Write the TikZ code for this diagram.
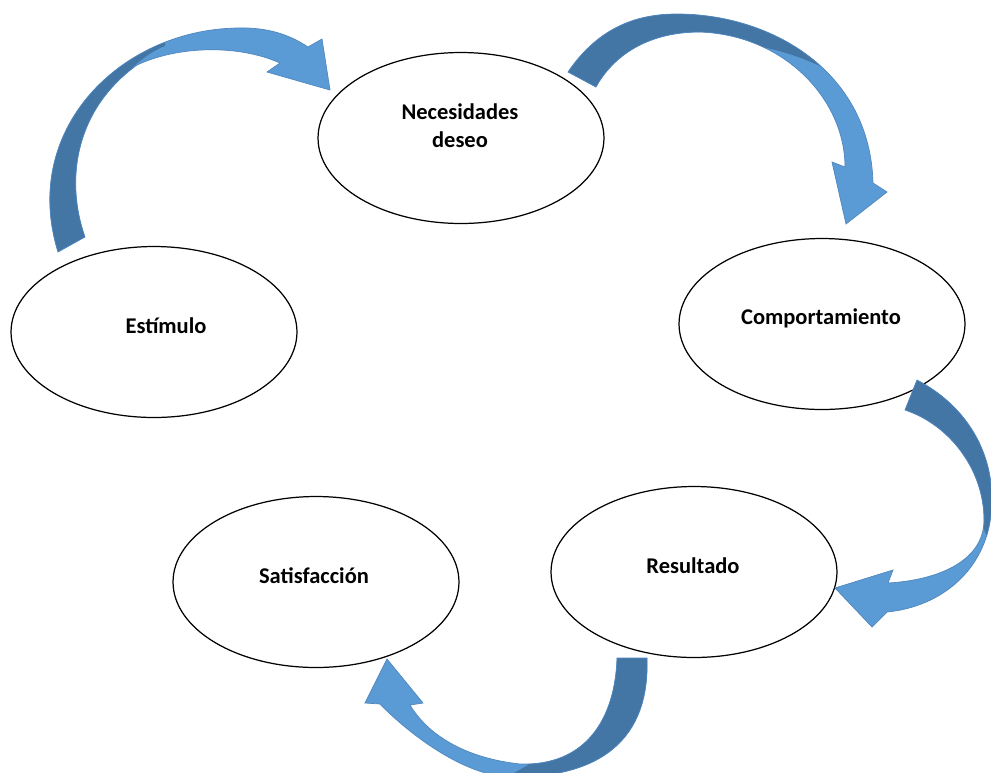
\documentclass[tikz,border=0pt]{standalone}
\usepackage{fontspec}
\setmainfont{Carlito}
\usetikzlibrary{shapes.geometric}
\definecolor{arrlight}{RGB}{91,155,213}
\definecolor{arrdark}{RGB}{68,118,165}
\definecolor{arredge}{RGB}{80,135,190}
\begin{document}
\begin{tikzpicture}[x=0.02cm,y=-0.02cm,
  oval/.style={ellipse, draw=black, line width=0.7pt, fill=white, inner sep=0pt, outer sep=0pt,
    minimum width=5.72cm, minimum height=3.42cm},
  lbl/.style={font=\fontsize{12.8}{15.9}\selectfont\bfseries, align=center, inner sep=0pt},
  arrfill/.style={fill=arrlight},
  arrshade/.style={fill=arrdark},
  arrline/.style={draw=arredge, line width=0.4pt}]
\useasboundingbox (0,0) rectangle (991,772);
\fill[white] (0,0) rectangle (991,772);
% ellipses
\node[oval] (nec) at (461,138) {};
\node[oval] (est) at (154,332) {};
\node[oval] (comp) at (822,324) {};
\node[oval] (res) at (694,572) {};
\node[oval] (sat) at (316,582) {};
% labels
\node[lbl] (tnec) at (460,126) {Necesidades\\deseo};
\node[lbl] (test) at (166,326) {Estímulo};
\node[lbl] (tcomp) at (821,318) {Comportamiento};
\node[lbl] (tres) at (693,566) {Resultado};
\node[lbl] (tsat) at (314,576) {Satisfacción};
% arrow paths
\def\pathA{(58,252) .. controls (20,130) and (120,30) .. (237,28) .. controls (268,27) and (290,35) .. (308,47) -- (322,39) -- (330,90) -- (267,72) -- (280,63) .. controls (240,45) and (180,45) .. (137,65) .. controls (75,110) and (65,180) .. (85,237) -- cycle}
\def\pathB{(568,72) .. controls (600,25) and (640,14) .. (677,14) .. controls (770,14) and (870,70) .. (873,183) -- (887,192) -- (846,224) -- (832,162) -- (845,167) .. controls (845,100) and (785,35) .. (700,32) .. controls (645,32) and (612,58) .. (596,87) -- cycle}
\def\pathC{(917,380) .. controls (965,405) and (993,450) .. (992,503) .. controls (990,570) and (940,607) .. (887,612) -- (872,627) -- (835,588) -- (893,570) -- (888,583) .. controls (940,580) and (984,560) .. (984,520) .. controls (984,470) and (950,425) .. (905,410) -- cycle}
\def\pathD{(647,658) .. controls (650,740) and (600,778) .. (510,777) .. controls (465,776) and (410,735) .. (380,704) -- (365,703) -- (387,659) -- (423,703) -- (410,705) .. controls (428,735) and (465,758) .. (520,764) .. controls (585,766) and (615,720) .. (617,658) -- cycle}
% arrow 1: Estimulo -> Necesidades
\fill[arrfill] \pathA;
\begin{scope}
\clip \pathA;
\fill[arrshade] (133,67) .. controls (145,56) and (155,50) .. (165,46) -- (165,0) -- (0,0) -- (0,300) -- (145,300) -- cycle;
\end{scope}
\draw[arrline] \pathA;
% arrow 2: Necesidades -> Comportamiento
\fill[arrfill] \pathB;
\begin{scope}
\clip \pathB;
\fill[arrshade] (756,46) .. controls (780,50) and (800,57) .. (820,66) -- (820,-10) -- (540,-10) -- (540,120) -- (620,120) -- cycle;
\end{scope}
\draw[arrline] \pathB;
% arrow 3: Comportamiento -> Resultado
\fill[arrfill] \pathC;
\begin{scope}
\clip \pathC;
\fill[arrshade] (982,525) -- (992,548) -- (1010,548) -- (1010,350) -- (880,350) -- (880,420) -- cycle;
\end{scope}
\draw[arrline] \pathC;
% arrow 4: Resultado -> Satisfaccion
\fill[arrfill] \pathD;
\begin{scope}
\clip \pathD;
\fill[arrshade] (528,765) -- (505,778) -- (505,800) -- (700,800) -- (700,640) -- (600,640) -- cycle;
\end{scope}
\draw[arrline] \pathD;
\end{tikzpicture}
\end{document}
